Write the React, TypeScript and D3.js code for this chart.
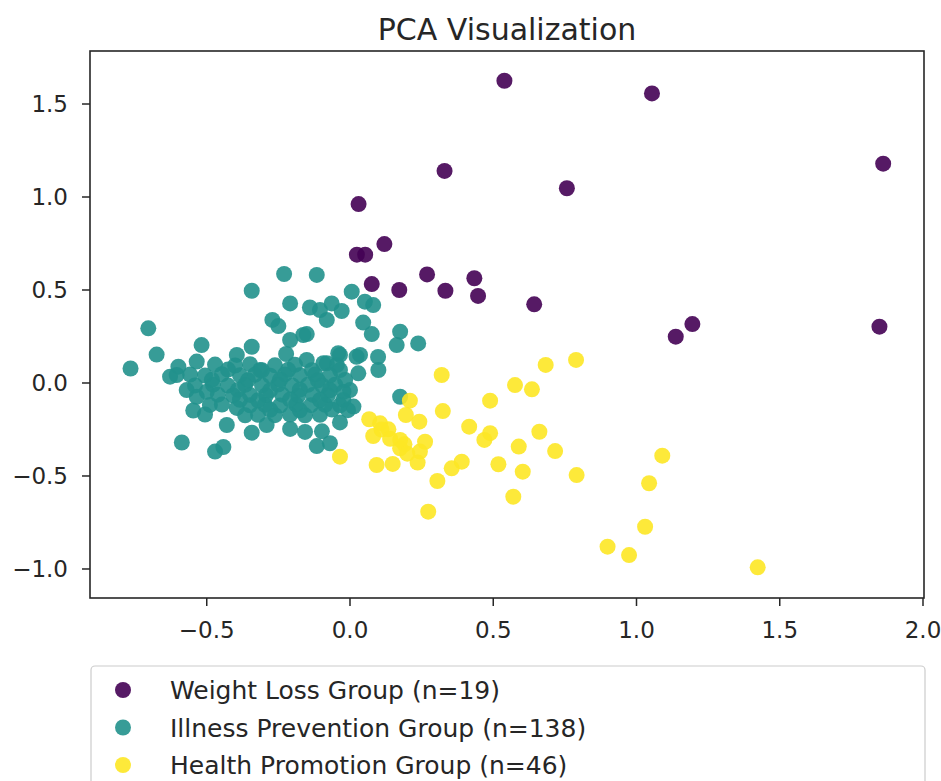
import React from 'react'
import * as d3 from 'd3'

const W = 941
const H = 781
const margin = { left: 90, right: 17, top: 51, bottom: 183 }

const groupNames = [
  'Weight Loss Group (n=19)',
  'Illness Prevention Group (n=138)',
  'Health Promotion Group (n=46)',
]
const groupColors = ['#440154', '#21918c', '#fde725']

const xTicks = [-0.5, 0.0, 0.5, 1.0, 1.5, 2.0]
const yTicks = [-1.0, -0.5, 0.0, 0.5, 1.0, 1.5]

const weightLoss = [
  [0.539, 1.625], [1.054, 1.557], [1.861, 1.179], [0.330, 1.140], [0.757, 1.047],
  [0.030, 0.962], [0.120, 0.747], [0.024, 0.690], [0.053, 0.690], [0.269, 0.584],
  [0.434, 0.563], [0.076, 0.532], [0.172, 0.500], [0.333, 0.496], [0.447, 0.468],
  [0.643, 0.423], [1.195, 0.317], [1.137, 0.249], [1.848, 0.303],
]

const illnessPrevention = [
  [-0.230, 0.586], [-0.116, 0.581], [-0.343, 0.496], [0.006, 0.491], [-0.209, 0.428],
  [-0.140, 0.406], [-0.064, 0.428], [-0.029, 0.387], [-0.081, 0.339], [-0.105, 0.392],
  [0.052, 0.437], [0.081, 0.419], [-0.271, 0.339], [-0.250, 0.306], [0.046, 0.325],
  [0.076, 0.263], [0.175, 0.276], [0.163, 0.204], [0.238, 0.213], [-0.704, 0.294],
  [-0.151, 0.263], [-0.209, 0.231], [-0.223, 0.156], [-0.675, 0.153], [-0.518, 0.204],
  [-0.395, 0.151], [-0.343, 0.195], [-0.766, 0.078], [-0.599, 0.088], [-0.628, 0.034],
  [-0.535, 0.115], [-0.151, 0.124], [-0.081, 0.106], [-0.041, 0.160], [0.023, 0.141],
  [0.098, 0.140], [0.029, 0.052], [-0.035, 0.070], [-0.314, 0.070], [-0.430, -0.226],
  [-0.343, -0.267], [-0.291, -0.226], [-0.209, -0.247], [-0.587, -0.320], [-0.471, -0.369],
  [-0.442, -0.344], [-0.116, -0.339], [-0.070, -0.324], [-0.023, -0.091], [0.012, -0.127],
  [-0.035, -0.212], [-0.547, -0.148], [-0.535, -0.074], [-0.570, -0.038], [0.175, -0.074],
  [-0.605, 0.043], [-0.395, -0.134], [-0.489, -0.118], [-0.500, -0.047], [0.000, -0.038],
  [-0.023, -0.047], [0.099, 0.070], [-0.046, 0.097], [-0.093, 0.106], [0.035, 0.151],
  [-0.035, 0.151], [-0.163, 0.258],
  // dense core
  [-0.471, 0.099], [-0.401, 0.094], [-0.349, 0.101], [-0.262, 0.095], [-0.192, 0.098],
  [-0.558, 0.045], [-0.506, 0.040], [-0.447, 0.047], [-0.384, 0.041], [-0.332, 0.044],
  [-0.279, 0.039], [-0.227, 0.046], [-0.175, 0.042], [-0.122, 0.045], [-0.070, 0.040],
  [-0.541, -0.013], [-0.478, -0.009], [-0.426, -0.014], [-0.366, -0.010], [-0.307, -0.012],
  [-0.251, -0.008], [-0.202, -0.013], [-0.147, -0.010], [-0.098, -0.012], [-0.052, -0.009],
  [-0.461, -0.063], [-0.408, -0.067], [-0.349, -0.064], [-0.293, -0.066], [-0.237, -0.063],
  [-0.181, -0.068], [-0.129, -0.064], [-0.077, -0.066],
  [-0.447, -0.116], [-0.349, -0.120], [-0.297, -0.117], [-0.244, -0.121], [-0.188, -0.116],
  [-0.136, -0.119], [-0.087, -0.117], [-0.035, -0.120],
  [-0.506, -0.170], [-0.366, -0.174], [-0.321, -0.171], [-0.262, -0.173], [-0.209, -0.170],
  [-0.157, -0.174], [-0.105, -0.171],
  [-0.157, -0.263], [-0.098, -0.260],
  [-0.426, 0.072], [-0.307, 0.068], [-0.216, 0.071], [-0.133, 0.069],
  [-0.482, 0.017], [-0.356, 0.015], [-0.244, 0.018], [-0.112, 0.014], [-0.017, 0.016],
  [-0.391, -0.037], [-0.279, -0.040], [-0.175, -0.036], [-0.070, -0.039],
  [-0.384, -0.090], [-0.321, -0.093], [-0.209, -0.089], [-0.105, -0.092],
  [-0.279, -0.144], [-0.175, -0.147], [-0.063, -0.143], [-0.007, -0.146],
]

const healthPromotion = [
  [0.320, 0.043], [0.683, 0.097], [0.789, 0.124], [0.576, -0.011], [0.635, -0.034],
  [0.489, -0.095], [0.209, -0.095], [0.324, -0.151], [0.195, -0.172], [0.242, -0.208],
  [0.067, -0.195], [0.105, -0.217], [0.134, -0.249], [0.081, -0.285], [0.416, -0.235],
  [0.489, -0.270], [0.469, -0.306], [0.661, -0.262], [0.589, -0.342], [0.716, -0.366],
  [0.175, -0.306], [0.175, -0.351], [0.262, -0.316], [0.244, -0.369], [0.093, -0.441],
  [0.149, -0.435], [0.236, -0.428], [-0.035, -0.396], [0.390, -0.423], [0.355, -0.459],
  [0.518, -0.437], [0.603, -0.477], [0.305, -0.527], [0.791, -0.495], [0.570, -0.611],
  [0.273, -0.692], [1.090, -0.391], [1.044, -0.539], [1.030, -0.773], [0.899, -0.880],
  [0.974, -0.925], [1.423, -0.991], [0.110, -0.250], [0.190, -0.330], [0.200, -0.380],
  [0.140, -0.300],
]

const groups = [weightLoss, illnessPrevention, healthPromotion]

const font = 'DejaVu Sans, sans-serif'
const ink = '#262626'

export default function App() {
  // 0.0 sits at y=383 and 1.5 at y=104 in the reference
  const x = d3.scaleLinear()
    .domain([-0.9075, 2.0035])
    .range([margin.left, W - margin.right])
  const y = d3.scaleLinear()
    .domain([-1.156, 1.785])
    .range([H - margin.bottom, margin.top])
  const fmt = d3.format('.1f')

  const [x0, x1] = x.range()
  const [y0, y1] = y.range()

  return (
    <svg width={W} height={H} style={{ position: 'absolute', left: 0, top: 0, background: '#fff' }}>
      <text x={(x0 + x1) / 2} y={40} textAnchor="middle" fontFamily={font} fontSize={30} fill={ink}>
        PCA Visualization
      </text>

      <g>
        {groups.map((pts, gi) =>
          pts.map((d, i) => (
            <circle
              key={`${gi}-${i}`}
              cx={x(d[0])} cy={y(d[1])} r={8}
              fill={groupColors[gi]} fillOpacity={0.9}
            />
          ))
        )}
      </g>

      <rect x={x0} y={y1} width={x1 - x0} height={y0 - y1} fill="none" stroke={ink} strokeWidth={1.6} />

      {xTicks.map((t) => (
        <g key={`x${t}`} transform={`translate(${x(t)},${y0})`}>
          <line y2={8} stroke={ink} strokeWidth={1.5} />
          <text y={40} textAnchor="middle" fontFamily={font} fontSize={23} fill={ink}>{fmt(t)}</text>
        </g>
      ))}
      {yTicks.map((t) => (
        <g key={`y${t}`} transform={`translate(${x0},${y(t)})`}>
          <line x2={-8} stroke={ink} strokeWidth={1.5} />
          <text x={-22} dy="0.36em" textAnchor="end" fontFamily={font} fontSize={23} fill={ink}>{fmt(t)}</text>
        </g>
      ))}

      <rect x={91} y={666} width={834} height={140} rx={4} fill="#fff" stroke="#cccccc" strokeWidth={1.2} />
      {groupNames.map((name, i) => (
        <g key={name} transform={`translate(0,${690 + i * 37.5})`}>
          <circle cx={123} cy={0} r={8} fill={groupColors[i]} fillOpacity={0.9} />
          <text x={170} dy="0.36em" fontFamily={font} fontSize={25} fill={ink}>{name}</text>
        </g>
      ))}
    </svg>
  )
}
